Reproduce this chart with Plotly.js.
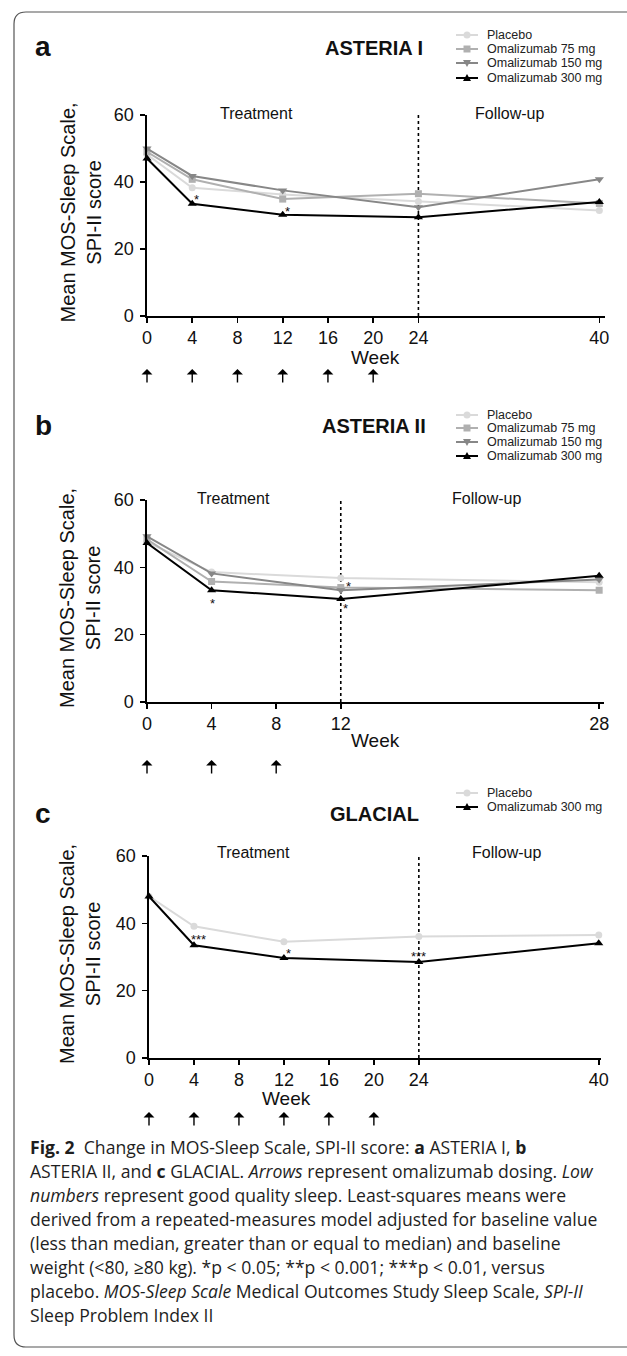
<!DOCTYPE html>
<html>
<head>
<meta charset="utf-8">
<script src="https://cdn.plot.ly/plotly-3.0.1.min.js"></script>
<style>
  html, body { margin: 0; padding: 0; background: #ffffff; }
  #chart { width: 627px; height: 1356px; }
</style>
</head>
<body>
<div id="chart"></div>
<script>
// ---------------- DATA ----------------
// Panel a: ASTERIA I
const weeksA = [0, 4, 12, 24, 40];
const placeboA = [48.2, 38.3, 36.3, 34.2, 31.5];
const oma75A = [49.0, 40.8, 34.9, 36.5, 33.6];
const oma150A = [50.0, 41.8, 37.5, 32.5, 40.8];
const oma300A = [47.0, 33.5, 30.2, 29.5, 34.0];
const tickWeeksA = [0, 4, 8, 12, 16, 20, 24, 40];
const doseWeeksA = [0, 4, 8, 12, 16, 20];
const splitWeekA = 24;

// Panel b: ASTERIA II
const weeksB = [0, 4, 12, 28];
const placeboB = [47.5, 38.6, 36.8, 35.6];
const oma75B = [48.3, 35.8, 34.0, 33.2];
const oma150B = [49.2, 38.2, 33.2, 36.4];
const oma300B = [47.2, 33.2, 30.6, 37.5];
const tickWeeksB = [0, 4, 8, 12, 28];
const doseWeeksB = [0, 4, 8];
const splitWeekB = 12;

// Panel c: GLACIAL
const weeksC = [0, 4, 12, 24, 40];
const placeboC = [48.0, 39.1, 34.5, 36.1, 36.5];
const oma300C = [48.0, 33.5, 29.7, 28.5, 34.1];
const tickWeeksC = [0, 4, 8, 12, 16, 20, 24, 40];
const doseWeeksC = [0, 4, 8, 12, 16, 20];
const splitWeekC = 24;

const yTicks = [0, 20, 40, 60];

// significance labels: week, series, label
const sigWeeksA = [4, 12];
const sigSeriesA = ['300', '300'];
const sigLabelsA = ['*', '*'];
const sigWeeksB = [4, 12, 12];
const sigSeriesB = ['300', '75', '300'];
const sigLabelsB = ['*', '*', '*'];
const sigWeeksC = [4, 12, 24];
const sigSeriesC = ['300', '300', '300'];
const sigLabelsC = ['***', '*', '***'];

const seriesNames = {
  placebo: 'Placebo',
  '75': 'Omalizumab 75 mg',
  '150': 'Omalizumab 150 mg',
  '300': 'Omalizumab 300 mg'
};

const captionLines = [
  '<b>Fig. 2</b>\u00a0\u00a0Change in MOS-Sleep Scale, SPI-II score: <b>a</b> ASTERIA I, <b>b</b>',
  'ASTERIA II, and <b>c</b> GLACIAL. <i>Arrows</i> represent omalizumab dosing. <i>Low</i>',
  '<i>numbers</i> represent good quality sleep. Least-squares means were',
  'derived from a repeated-measures model adjusted for baseline value',
  '(less than median, greater than or equal to median) and baseline',
  'weight (&lt;80, \u226580 kg). *p &lt; 0.05; **p &lt; 0.001; ***p &lt; 0.01, versus',
  'placebo. <i>MOS-Sleep Scale</i> Medical Outcomes Study Sleep Scale, <i>SPI-II</i>',
  'Sleep Problem Index II'
];

// ---------------- STYLE / LAYOUT ----------------
const W = 627, H = 1356;
const px = v => v / W;
const py = v => 1 - v / H;
const FONT = 'Arial, "Liberation Sans", sans-serif';
const CAP_FONT = '"Open Sans", "Noto Sans", sans-serif';

const styles = {
  placebo: { color: '#dadada', symbol: 'circle', size: 7 },
  '75': { color: '#b0b0b0', symbol: 'square', size: 7 },
  '150': { color: '#878787', symbol: 'triangle-down', size: 8 },
  '300': { color: '#000000', symbol: 'triangle-up', size: 8 }
};

function trace(key, x, y, xa, ya) {
  const s = styles[key];
  return {
    type: 'scatter', mode: 'lines+markers', name: seriesNames[key],
    x: x, y: y, xaxis: xa, yaxis: ya, showlegend: false, cliponaxis: false,
    line: { color: s.color, width: 2 },
    marker: { color: s.color, symbol: s.symbol, size: s.size, line: { width: 0 } },
    hoverinfo: 'skip'
  };
}

const data = [
  trace('placebo', weeksA, placeboA, 'x', 'y'),
  trace('75', weeksA, oma75A, 'x', 'y'),
  trace('150', weeksA, oma150A, 'x', 'y'),
  trace('300', weeksA, oma300A, 'x', 'y'),
  trace('placebo', weeksB, placeboB, 'x2', 'y2'),
  trace('75', weeksB, oma75B, 'x2', 'y2'),
  trace('150', weeksB, oma150B, 'x2', 'y2'),
  trace('300', weeksB, oma300B, 'x2', 'y2'),
  trace('placebo', weeksC, placeboC, 'x3', 'y3'),
  trace('300', weeksC, oma300C, 'x3', 'y3')
];

function xAxis(ticks, last, left, right, anchor) {
  return {
    domain: [px(left), px(right)], range: [0, last], anchor: anchor,
    tickvals: ticks, ticktext: ticks.map(String),
    showline: true, linecolor: '#000', linewidth: 1.6,
    ticks: 'outside', ticklen: 5, tickwidth: 1.6, tickcolor: '#000',
    showgrid: false, zeroline: false, fixedrange: true,
    tickfont: { family: FONT, size: 18, color: '#111' }
  };
}
function yAxis(top, bottom, anchor) {
  return {
    domain: [py(bottom), py(top)], range: [0, 60], anchor: anchor,
    tickvals: yTicks, ticktext: yTicks.map(String),
    showline: true, linecolor: '#000', linewidth: 1.6,
    ticks: 'outside', ticklen: 5, tickwidth: 1.6, tickcolor: '#000',
    ticklabelstandoff: 3,
    showgrid: false, zeroline: false, fixedrange: true,
    tickfont: { family: FONT, size: 18, color: '#111' }
  };
}

const panels = [
  { xa: 'x', ya: 'y', top: 115, bottom: 316, split: splitWeekA, dose: doseWeeksA,
    letter: 'a', title: 'ASTERIA I', titleY: 47, legendRows: [35, 49, 63, 78],
    legendKeys: ['placebo', '75', '150', '300'],
    treatX: 256, followX: 509, phaseY: 113, weekX: 376, weekY: 357, arrowTop: 369,
    sigW: sigWeeksA, sigS: sigSeriesA, sigL: sigLabelsA,
    sigShift: [[4, 4], [5, 3]],
    series: { placebo: placeboA, '75': oma75A, '150': oma150A, '300': oma300A }, weeks: weeksA },
  { xa: 'x2', ya: 'y2', top: 500, bottom: 702, split: splitWeekB, dose: doseWeeksB,
    letter: 'b', title: 'ASTERIA II', titleY: 425, legendRows: [415, 428, 442, 456],
    legendKeys: ['placebo', '75', '150', '300'],
    treatX: 233, followX: 486, phaseY: 498, weekX: 376, weekY: 740, arrowTop: 760,
    sigW: sigWeeksB, sigS: sigSeriesB, sigL: sigLabelsB,
    sigShift: [[1, -13], [8, 1], [5, -10]],
    series: { placebo: placeboB, '75': oma75B, '150': oma150B, '300': oma300B }, weeks: weeksB },
  { xa: 'x3', ya: 'y3', top: 856, bottom: 1058, split: splitWeekC, dose: doseWeeksC,
    letter: 'c', title: 'GLACIAL', titleY: 813, legendRows: [793, 807],
    legendKeys: ['placebo', '300'],
    treatX: 253, followX: 506, phaseY: 852, weekX: 286, weekY: 1098, arrowTop: 1112,
    sigW: sigWeeksC, sigS: sigSeriesC, sigL: sigLabelsC,
    sigShift: [[5, 6], [5, 5], [0, 6]],
    series: { placebo: placeboC, '300': oma300C }, weeks: weeksC }
];

const shapes = [];
const annotations = [];

function txt(x, y, text, size, opts) {
  return Object.assign({
    xref: 'paper', yref: 'paper', x: px(x), y: py(y), text: text, showarrow: false,
    xanchor: 'center', yanchor: 'middle',
    font: { family: FONT, size: size, color: '#111' }
  }, opts || {});
}

panels.forEach(p => {
  // dotted phase split
  shapes.push({ type: 'line', xref: p.xa, yref: p.ya, x0: p.split, x1: p.split, y0: 0, y1: 60,
    line: { color: '#000', width: 1.6, dash: 'dot' }, layer: 'below' });
  // panel letter and title
  annotations.push(txt(43, p.titleY, '<b>' + p.letter + '</b>', 28));
  annotations.push(txt(374, p.titleY + 1, '<b>' + p.title + '</b>', 20));
  // phase labels
  annotations.push(txt(p.treatX, p.phaseY, 'Treatment', 16));
  annotations.push(txt(p.followX, p.phaseY, 'Follow-up', 16));
  // x title
  annotations.push(txt(p.weekX, p.weekY, 'Week', 19));
  // y title
  annotations.push(txt(80, (p.top + p.bottom) / 2 - 3, 'Mean MOS-Sleep Scale,<br>SPI-II score', 20,
    { textangle: -90 }));
  // dosing arrows
  p.dose.forEach(w => {
    annotations.push({ xref: p.xa, yref: 'paper', x: w, y: py(p.arrowTop), text: '',
      showarrow: true, ax: 0, ay: 15, axref: 'pixel', ayref: 'pixel',
      arrowhead: 1, arrowsize: 1.3, arrowwidth: 1.4, arrowcolor: '#000', standoff: 0 });
  });
  // significance labels
  p.sigW.forEach((w, i) => {
    const vals = p.series[p.sigS[i]];
    const yv = vals[p.weeks.indexOf(w)];
    annotations.push({ xref: p.xa, yref: p.ya, x: w, y: yv, text: p.sigL[i], showarrow: false,
      xshift: p.sigShift[i][0], yshift: p.sigShift[i][1], xanchor: 'center', yanchor: 'middle',
      font: { family: FONT, size: 13, color: '#111' } });
  });
  // legend (drawn manually for compact rows)
  p.legendKeys.forEach((k, i) => {
    const r = p.legendRows[i];
    const s = styles[k];
    shapes.push({ type: 'line', xref: 'paper', yref: 'paper', x0: px(456), x1: px(478), y0: py(r), y1: py(r),
      line: { color: s.color, width: 2 } });
    const c = 467, h = 3.5;
    if (s.symbol === 'circle') {
      shapes.push({ type: 'circle', xref: 'paper', yref: 'paper', x0: px(c - h), x1: px(c + h), y0: py(r + h), y1: py(r - h),
        fillcolor: s.color, line: { width: 0 } });
    } else if (s.symbol === 'square') {
      shapes.push({ type: 'rect', xref: 'paper', yref: 'paper', x0: px(c - h), x1: px(c + h), y0: py(r + h), y1: py(r - h),
        fillcolor: s.color, line: { width: 0 } });
    } else if (s.symbol === 'triangle-down') {
      shapes.push({ type: 'path', xref: 'paper', yref: 'paper',
        path: `M ${px(c - 4)},${py(r - 3)} L ${px(c + 4)},${py(r - 3)} L ${px(c)},${py(r + 4)} Z`,
        fillcolor: s.color, line: { width: 0 } });
    } else {
      shapes.push({ type: 'path', xref: 'paper', yref: 'paper',
        path: `M ${px(c - 4)},${py(r + 3)} L ${px(c + 4)},${py(r + 3)} L ${px(c)},${py(r - 4)} Z`,
        fillcolor: s.color, line: { width: 0 } });
    }
    annotations.push(txt(485, r, seriesNames[k], 12.5, { xanchor: 'left', font: { family: FONT, size: 12.5, color: '#222' } }));
  });
});

// caption
captionLines.forEach((line, i) => {
  annotations.push(txt(28, 1147 + i * 24, line, 17.6,
    { xanchor: 'left', font: { family: CAP_FONT, size: 17.6, color: '#1e1e1e' } }));
});

// rounded frame
shapes.push({ type: 'path', xref: 'paper', yref: 'paper',
  path: `M ${px(650)},${py(12)} L ${px(26)},${py(12)} Q ${px(14)},${py(12)} ${px(14)},${py(24)} L ${px(14)},${py(1335)} Q ${px(14)},${py(1347)} ${px(26)},${py(1347)} L ${px(650)},${py(1347)}`,
  line: { color: '#555', width: 1.2 } });

const layout = {
  width: W, height: H, margin: { l: 0, r: 0, t: 0, b: 0 },
  paper_bgcolor: '#ffffff', plot_bgcolor: '#ffffff',
  showlegend: false,
  xaxis: xAxis(tickWeeksA, 40.5, 147, 605, 'y'),
  yaxis: yAxis(115, 316, 'x'),
  xaxis2: xAxis(tickWeeksB, 28.3, 147, 604, 'y2'),
  yaxis2: yAxis(500, 702, 'x2'),
  xaxis3: xAxis(tickWeeksC, 40.2, 149, 601, 'y3'),
  yaxis3: yAxis(856, 1058, 'x3'),
  shapes: shapes,
  annotations: annotations
};

Plotly.newPlot('chart', data, layout, { displayModeBar: false, staticPlot: true });
</script>
</body>
</html>
